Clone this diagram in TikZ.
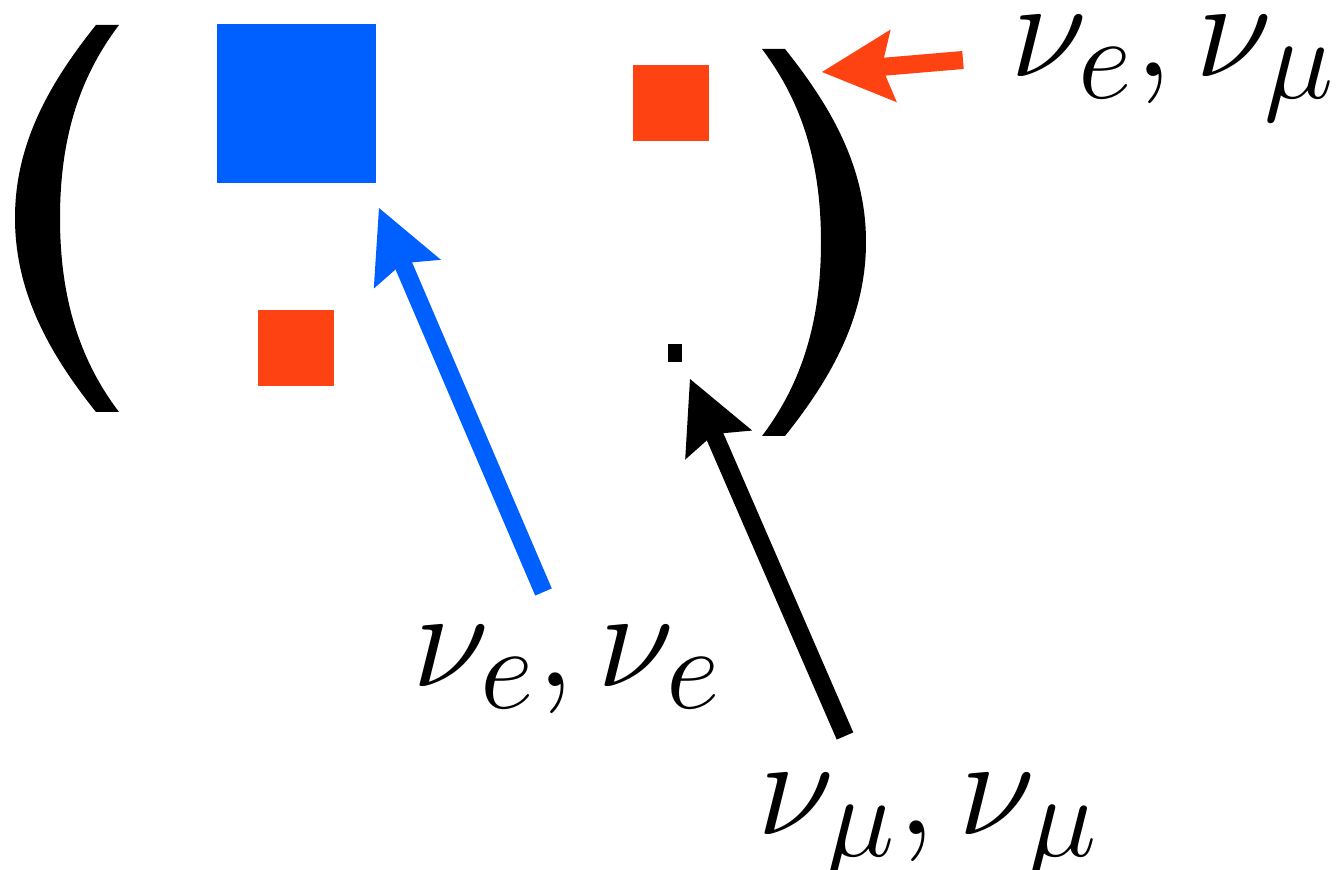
\documentclass[tikz,border=0pt]{standalone}
\usetikzlibrary{arrows.meta}
\definecolor{nublue}{RGB}{0,96,255}
\definecolor{nured}{RGB}{255,66,17}
\tikzset{
  sq/.style={inner sep=0pt, outer sep=0pt, minimum size=#1},
  paren/.style={fill=black},
  arr/.style={-{Stealth[length=0.72cm, width=0.73cm, inset=0.12cm, line width=0pt]}, line width=0.18cm},
  lbl/.style={inner sep=0pt, font=\Huge, scale=1.61},
}
\begin{document}
\begin{tikzpicture}[x=0.01cm, y=-0.01cm]
  \useasboundingbox (0,0) rectangle (1344,870);
  % brackets
  \fill[paren] (96,25) .. controls (48,85) and (15,145) .. (15,218)
    .. controls (15,291) and (48,352) .. (96,412) -- (119,412)
    .. controls (78,358) and (60,295) .. (60,218)
    .. controls (60,141) and (78,79) .. (119,25) -- cycle;
  \fill[paren] (785,49) .. controls (833,109) and (866,169) .. (866,242)
    .. controls (866,315) and (833,376) .. (785,436) -- (762,436)
    .. controls (803,382) and (821,319) .. (821,242)
    .. controls (821,165) and (803,103) .. (762,49) -- cycle;
  % entries
  \node[sq=1.59cm, fill=nublue] (ee) at (296.5,103.5) {};
  \node[sq=0.76cm, fill=nured] (emu) at (671,103) {};
  \node[sq=0.76cm, fill=nured] (mue) at (296,348) {};
  \node[sq=0.14cm, minimum height=0.17cm, fill=black] (mumu) at (675,353) {};
  % labels
  \node[lbl, anchor=base west] (lemu) at (1009,77) {$\nu_e, \nu_\mu$};
  \node[lbl, anchor=base west] (lee) at (411,687) {$\nu_e, \nu_e$};
  \node[lbl, anchor=base west] (lmumu) at (756,835) {$\nu_\mu, \nu_\mu$};
  % arrows
  \coordinate (emutail) at (963,60);
  \coordinate (emutip) at (822,72);
  \coordinate (eetail) at (543.5,592);
  \coordinate (eetip) at (379,208);
  \coordinate (mumutail) at (845,736);
  \coordinate (mumutip) at (690,379);
  \draw[arr, nured] (emutail) -- (emutip);
  \draw[arr, nublue] (eetail) -- (eetip);
  \draw[arr, black] (mumutail) -- (mumutip);
\end{tikzpicture}
\end{document}
